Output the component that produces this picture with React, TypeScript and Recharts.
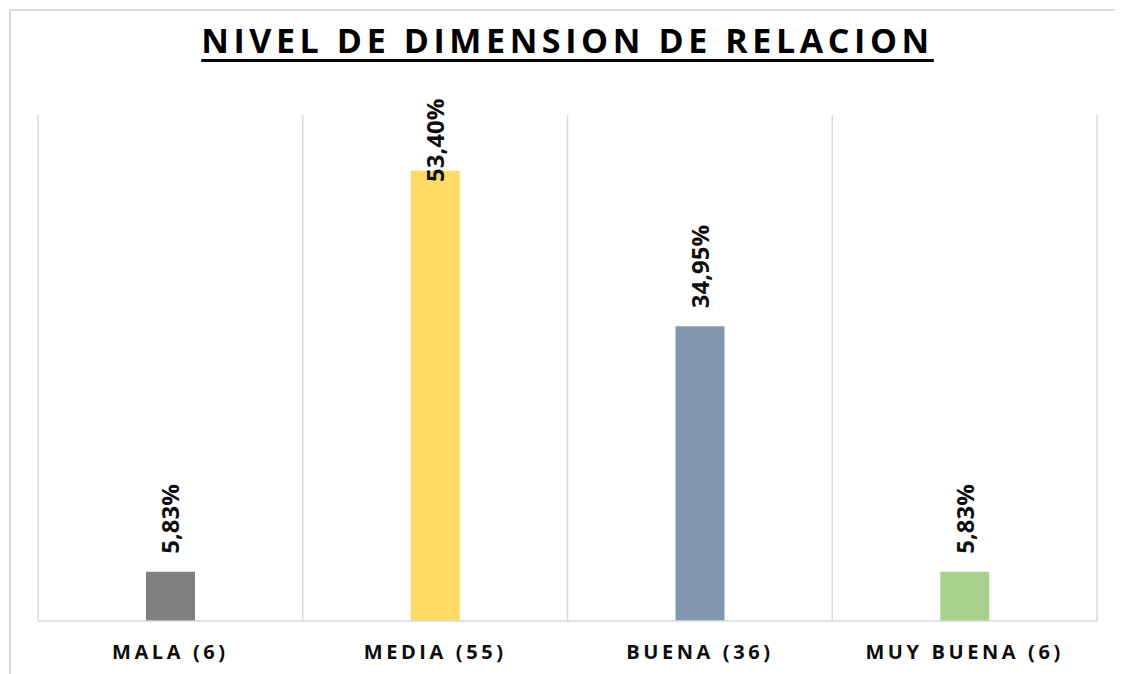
import { Bar, BarChart, CartesianGrid, Cell, LabelList, XAxis, YAxis } from "recharts"

const categories = ["MALA (6)", "MEDIA (55)", "BUENA (36)", "MUY BUENA (6)"]
const percents = [5.83, 53.4, 34.95, 5.83]
const labels = ["5,83%", "53,40%", "34,95%", "5,83%"]
const colors = ["#7f7f7f", "#ffd966", "#8497b0", "#a9d18e"]

const data = categories.map((name, i) => ({ name, value: percents[i], label: labels[i] }))

const FONT = "'Open Sans', 'Liberation Sans', sans-serif"
const GRID = "#d9d9d9"

function CategoryTick(props: any) {
  const { x, y, payload } = props
  return (
    <text
      x={x}
      y={y}
      dy={38}
      textAnchor="middle"
      fontFamily={FONT}
      fontWeight={700}
      fontSize={20}
      letterSpacing={3.6}
      fill="#0d0d0d"
    >
      {payload.value}
    </text>
  )
}

function ValueLabel(props: any) {
  const { x, y, width, index } = props
  const cx = x + width / 2 + 9
  // Excel keeps the rotated label inside the chart area
  const bottom = Math.max(y - 18, 174)
  return (
    <text
      x={cx}
      y={bottom}
      transform={`rotate(-90 ${cx} ${bottom})`}
      textAnchor="start"
      fontFamily={FONT}
      fontWeight={700}
      fontSize={24}
      fill="#0d0d0d"
    >
      {labels[index]}
    </text>
  )
}

export default function App() {
  return (
    <div style={{ position: "relative", width: 1115, height: 666, overflow: "hidden" }}>
      <div
        style={{
          position: "absolute",
          left: 1,
          top: 1,
          width: 1200,
          height: 800,
          border: `2px solid ${GRID}`,
          boxSizing: "border-box",
        }}
      />
      <div
        style={{
          position: "absolute",
          left: 30,
          width: 1059,
          top: 10,
          textAlign: "center",
          fontFamily: FONT,
          fontWeight: 700,
          fontSize: 34,
          lineHeight: "44px",
          letterSpacing: 4.6,
          color: "#000",
        }}
      >
        <span style={{ textDecoration: "underline", textDecorationThickness: 2.5, textUnderlineOffset: 6 }}>
          NIVEL DE DIMENSION DE RELACION
        </span>
      </div>
      <div style={{ position: "absolute", left: 0, top: 0 }}>
        <BarChart width={1115} height={666} data={data} margin={{ top: 107, right: 26, left: 30, bottom: 45 }}>
          <CartesianGrid
            horizontal={false}
            stroke={GRID}
            strokeWidth={1.5}
            verticalCoordinatesGenerator={({ offset }: any) =>
              [0, 1, 2, 3, 4].map((i) => offset.left + (i * offset.width) / 4)
            }
          />
          <XAxis
            dataKey="name"
            axisLine={{ stroke: GRID, strokeWidth: 1.5 }}
            tickLine={false}
            tickSize={0}
            tickMargin={0}
            height={8}
            interval={0}
            tick={<CategoryTick />}
          />
          <YAxis hide domain={[0, 60]} />
          <Bar dataKey="value" barSize={49} isAnimationActive={false}>
            {data.map((d, i) => (
              <Cell key={d.name} fill={colors[i]} />
            ))}
            <LabelList dataKey="value" content={<ValueLabel />} />
          </Bar>
        </BarChart>
      </div>
    </div>
  )
}
